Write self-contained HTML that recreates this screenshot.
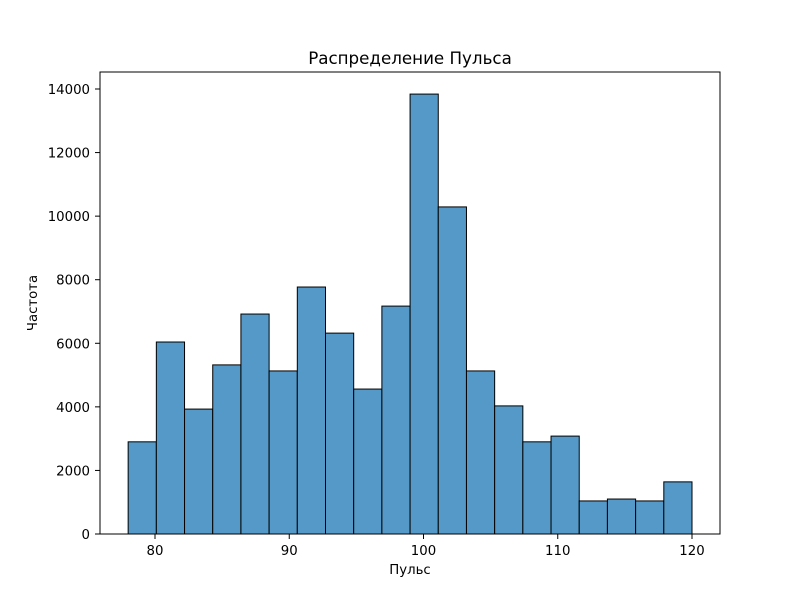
<!DOCTYPE html>
<html><head><meta charset="utf-8">
<style>
html,body{margin:0;padding:0;background:#fff;}
svg{display:block;font-family:"DejaVu Sans","Liberation Sans",sans-serif;}
</style></head>
<body>
<svg id="chart" width="800" height="600" xmlns="http://www.w3.org/2000/svg">
<rect width="800" height="600" fill="#fff"/>
<text x="410" y="64" text-anchor="middle" font-size="16.7">Распределение Пульса</text>
<text x="410" y="574" text-anchor="middle" font-size="13.3">Пульс</text>
<text transform="translate(37,303) rotate(-90)" text-anchor="middle" font-size="13.3">Частота</text>
<g id="bars"></g>
<g id="xticks"></g>
<g id="yticks"></g>
<rect x="100" y="72" width="620" height="462" fill="none" stroke="#000" stroke-width="1"/>
</svg>
<script>
const binStart = 78;
const binWidth = 2.1;
const counts = [2900, 6040, 3930, 5320, 6920, 5130, 7770, 6320, 4560, 7170, 13840, 10290, 5130, 4030, 2900, 3080, 1040, 1100, 1040, 1640];
const xTickValues = [80, 90, 100, 110, 120];
const yTickValues = [0, 2000, 4000, 6000, 8000, 10000, 12000, 14000];

const NS = "http://www.w3.org/2000/svg";
function xs(v){ return 155 + (v - 80) * 13.425; }
function ys(v){ return 534 - v * (445 / 14000); }

const bars = document.getElementById('bars');
counts.forEach(function(c, i){
  const x0 = xs(binStart + i * binWidth), x1 = xs(binStart + (i + 1) * binWidth);
  const r = document.createElementNS(NS, 'rect');
  r.setAttribute('x', x0); r.setAttribute('y', ys(c));
  r.setAttribute('width', x1 - x0); r.setAttribute('height', ys(0) - ys(c));
  r.setAttribute('fill', '#5499c7'); r.setAttribute('stroke', '#000'); r.setAttribute('stroke-width', '1');
  
  
  bars.appendChild(r);
});

const xg = document.getElementById('xticks');
xTickValues.forEach(function(v){
  const x = xs(v);
  const l = document.createElementNS(NS, 'line');
  l.setAttribute('x1', x); l.setAttribute('x2', x); l.setAttribute('y1', 534); l.setAttribute('y2', 539);
  l.setAttribute('stroke', '#000');
  
  
  xg.appendChild(l);
  const t = document.createElementNS(NS, 'text');
  t.setAttribute('x', x); t.setAttribute('y', 555); t.setAttribute('text-anchor', 'middle'); t.setAttribute('font-size', '13.3');
  t.textContent = v;
  
  
  xg.appendChild(t);
});

const yg = document.getElementById('yticks');
yTickValues.forEach(function(v){
  const y = ys(v);
  const l = document.createElementNS(NS, 'line');
  l.setAttribute('x1', 95); l.setAttribute('x2', 100); l.setAttribute('y1', y); l.setAttribute('y2', y);
  l.setAttribute('stroke', '#000');
  
  
  yg.appendChild(l);
  const t = document.createElementNS(NS, 'text');
  t.setAttribute('x', 90); t.setAttribute('y', y + 5); t.setAttribute('text-anchor', 'end'); t.setAttribute('font-size', '13.3');
  t.textContent = v;
  
  
  yg.appendChild(t);
});
</script>
</body></html>
